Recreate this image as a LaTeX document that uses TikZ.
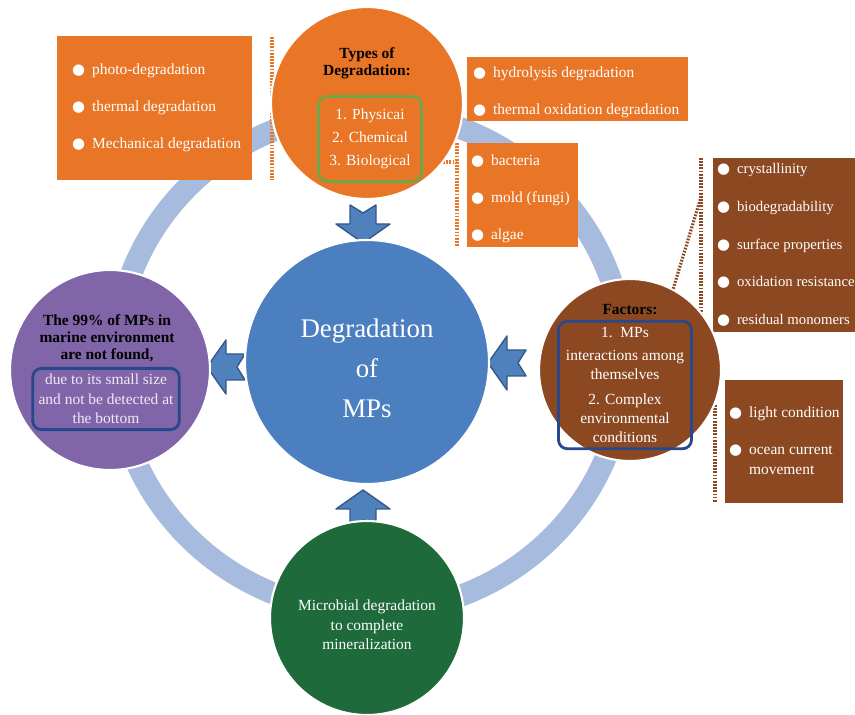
\documentclass[tikz,border=0pt]{standalone}
\usepackage{fontspec}
\setmainfont{Liberation Serif}
\newfontfamily\symfont{DejaVu Sans}
\usetikzlibrary{positioning}

\definecolor{ringblue}{RGB}{167,187,222}
\definecolor{coreblue}{RGB}{76,127,192}
\definecolor{arrowblue}{RGB}{79,129,189}
\definecolor{arrowedge}{RGB}{52,88,138}
\definecolor{degorange}{RGB}{233,117,38}
\definecolor{factbrown}{RGB}{139,72,33}
\definecolor{lostpurple}{RGB}{128,101,168}
\definecolor{microgreen}{RGB}{30,106,58}
\definecolor{listgreen}{RGB}{112,165,72}
\definecolor{framenavy}{RGB}{40,72,140}
\definecolor{lavender}{RGB}{238,234,248}

\newcommand{\bul}{{\symfont\fontsize{8.5}{8.5}\selectfont ●}\hspace{4pt}}

\tikzset{
  hub/.style={circle, fill=#1, draw=white, line width=1.2pt, inner sep=0pt},
  small/.style={font=\fontsize{8.8}{11}\selectfont, text=white},
  headline/.style={font=\bfseries\fontsize{8.8}{9.8}\selectfont, align=center, text=black},
  listbox/.style={fill=#1, inner sep=0pt},
  listtext/.style={small, align=left, inner sep=0pt},
  frame/.style={draw=#1, line width=1.6pt, rounded corners=5pt, small, align=center},
  dots/.style={draw=#1, line width=1.8pt, dash pattern=on 1pt off 0.8pt},
  blockarrow/.style={fill=arrowblue, draw=arrowedge, line width=0.8pt, line join=round},
  notched/.pic={
    \draw[blockarrow] (0,0) -- (-19,27) -- (-19,13) -- (-38,13) -- (-30,0)
      -- (-38,-13) -- (-19,-13) -- (-19,-27) -- cycle;
  }
}

\begin{document}
\begin{tikzpicture}[x=0.02cm, y=-0.02cm]
\useasboundingbox (0,0) rectangle (855,715);

% cycle ring
\draw[ringblue, line width=0.44cm] (370,362) ellipse [x radius=255, y radius=250];

% side lists
\node[listbox=degorange, minimum width=3.9cm, minimum height=2.88cm] (physical) at (154.5,108) {};
\node[listtext, right=0.3cm of physical.west] (physicalitems)
  {\bul photo-degradation\\[10pt]\bul thermal degradation\\[10pt]\bul Mechanical degradation};
\node[listbox=degorange, minimum width=4.42cm, minimum height=1.28cm] (chemical) at (577.5,89) {};
\node[listtext, right=0.12cm of chemical.west, yshift=-0.06cm] (chemicalitems)
  {\bul hydrolysis degradation\\[10pt]\bul thermal oxidation degradation};
\node[listbox=degorange, minimum width=2.22cm, minimum height=2.08cm] (biological) at (522.5,195) {};
\node[listtext, right=0.08cm of biological.west, yshift=-0.08cm] (biologicalitems)
  {\bul bacteria\\[10pt]\bul mold (fungi)\\[10pt]\bul algae};
\node[listbox=factbrown, minimum width=2.94cm, minimum height=3.48cm] (properties) at (786.5,245) {};
\node[listtext, font=\fontsize{8.4}{11}\selectfont, right=0.08cm of properties.west] (propertyitems)
  {\bul crystallinity\\[10.4pt]\bul biodegradability\\[10.4pt]\bul surface properties\\[10.4pt]\bul oxidation resistance\\[10.4pt]\bul residual monomers};
\node[listbox=factbrown, minimum width=2.36cm, minimum height=2.46cm] (environment) at (784,441.5) {};
\node[listtext, right=0.08cm of environment.west] (environmentitems)
  {\bul light condition\\[10pt]\bul ocean current\\\phantom{\bul}movement};

% dotted brackets
\draw[dots=degorange] (272,37) -- (272,180);
\draw[dots=degorange] (448,57) -- (448,121);
\draw[dots=degorange] (457,143) -- (457,247);
\draw[dots=degorange] (440,162) -- (457,162);
\coordinate (propjoin) at (701,197);
\draw[dots=factbrown] (701,158) -- (701,332);
\draw[dots=factbrown] (715,405) -- (715,503);

% block arrows
\pic[rotate=-90] at (363,243) {notched};
\pic[rotate=90] at (363,490) {notched};
\pic[rotate=180] at (207,367) {notched};
\pic[rotate=180] at (488,363) {notched};

% circles
\node[hub=degorange, minimum size=3.84cm] (types) at (367,103) {};
\node[hub=coreblue, minimum size=4.88cm] (core) at (367,362) {};
\node[hub=lostpurple, minimum size=4cm] (lost) at (110,370) {};
\node[hub=factbrown, minimum size=3.64cm] (factors) at (630,370) {};
\node[hub=microgreen, minimum size=3.88cm] (micro) at (367,618) {};
\draw[dots=factbrown] (factors.62) -- (propjoin);

% circle texts
\node[headline] (typeshead) at (367,63) {Types of\\Degradation:};
\node[frame=listgreen, font=\fontsize{8.8}{13}\selectfont, minimum width=2.06cm, minimum height=1.7cm] (typeslist) at (370,139)
  {1. Physicai\\2. Chemical\\3. Biological};
\node[font=\fontsize{15.3}{22.7}\selectfont, text=white, align=center] (coretitle) at (367,368) {Degradation\\of\\MPs};
\node[headline] (losthead) at (107,338) {The 99\% of MPs in\\marine environment\\are not found,};
\node[frame=framenavy, text=lavender, minimum width=2.74cm, minimum height=1.16cm] (lostnote) at (106,399)
  {due to its small size\\and not be detected at\\the bottom};
\node[headline] (factorshead) at (630,310) {Factors:};
\node[frame=framenavy, minimum width=2.66cm, minimum height=2.48cm] (factorlist) at (625,385)
  {1.\ \ MPs\\[2pt]interactions among\\themselves\\[3pt]2. Complex\\environmental\\conditions};
\node[small, align=center] (microtext) at (367,625) {Microbial degradation\\to complete\\mineralization};
\end{tikzpicture}
\end{document}
